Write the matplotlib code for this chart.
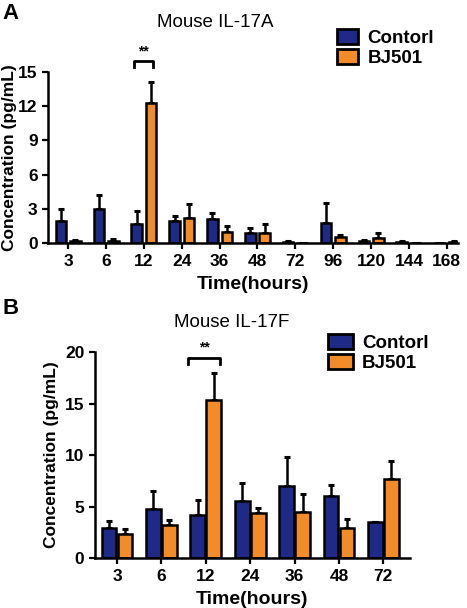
import numpy as np
import matplotlib.pyplot as plt

plt.rcParams['font.family'] = ['Liberation Sans', 'DejaVu Sans']

# Panel A: Mouse IL-17A
a_times = ['3', '6', '12', '24', '36', '48', '72', '96', '120', '144', '168']
a_ctrl = np.array([1.9, 3.0, 1.7, 1.95, 2.15, 0.9, 0.1, 1.8, 0.15, 0.1, 0.0])
a_ctrl_err = np.array([1.1, 1.2, 1.1, 0.45, 0.45, 0.4, 0.1, 1.7, 0.1, 0.05, 0.0])
a_bj = np.array([0.2, 0.2, 12.3, 2.2, 1.0, 0.9, 0.0, 0.5, 0.45, 0.0, 0.1])
a_bj_err = np.array([0.1, 0.15, 1.8, 1.2, 0.5, 0.8, 0.0, 0.2, 0.4, 0.0, 0.05])

# Panel B: Mouse IL-17F
b_times = ['3', '6', '12', '24', '36', '48', '72']
b_ctrl = np.array([2.9, 4.8, 4.2, 5.5, 7.0, 6.0, 3.5])
b_ctrl_err = np.array([0.7, 1.7, 1.4, 1.8, 2.8, 1.1, 0.0])
b_bj = np.array([2.3, 3.2, 15.3, 4.4, 4.5, 2.9, 7.7])
b_bj_err = np.array([0.5, 0.5, 2.7, 0.5, 1.7, 0.9, 1.7])

blue = '#1f2a86'
orange = '#f28c28'

fig = plt.figure(figsize=(4.67, 6.08), dpi=100)


def draw(ax, labels, ctrl, ctrl_err, bj, bj_err, width, off):
    x = np.arange(len(labels))
    for vals, errs, col, sign in [(ctrl, ctrl_err, blue, -1), (bj, bj_err, orange, 1)]:
        ax.bar(x + sign * off, vals, width, color=col, edgecolor='black', linewidth=1.8, zorder=2)
        ax.errorbar(x + sign * off, vals, yerr=[np.zeros_like(errs), errs], fmt='none',
                    ecolor='black', elinewidth=1.8, capsize=2.2, capthick=2.2, zorder=1)
    ax.set_xticks(x)
    ax.set_xticklabels(labels)
    for s in ['top', 'right']:
        ax.spines[s].set_visible(False)
    for s in ['left', 'bottom']:
        ax.spines[s].set_linewidth(1.8)
    ax.tick_params(width=1.6, length=4, labelsize=12.5)
    for t in ax.get_xticklabels() + ax.get_yticklabels():
        t.set_fontweight('bold')
    return x


def bracket(ax, x0, x1, y, h):
    ax.plot([x0, x0, x1, x1], [y - h, y, y, y - h], color='black', lw=2, clip_on=False)
    ax.text((x0 + x1) / 2, y + h * 0.6, '**', ha='center', va='bottom', fontsize=10, fontweight='bold')


def legend(anchor, hl):
    h = [plt.Rectangle((0, 0), 1, 1, facecolor=c, edgecolor='black', lw=2) for c in (blue, orange)]
    fig.legend(h, ['Contorl', 'BJ501'], loc='center left', bbox_to_anchor=anchor,
               frameon=False, prop={'weight': 'bold', 'size': 13.5}, handlelength=hl,
               handleheight=0.8, handletextpad=0.5, labelspacing=0.12, borderpad=0,
               borderaxespad=0)


# ---- Panel A ----
axA = fig.add_axes([0.103, 0.600, 0.878, 0.282])
draw(axA, a_times, a_ctrl, a_ctrl_err, a_bj, a_bj_err, 0.28, 0.19)
axA.set_xlim(-0.53, 10.3)
axA.set_ylim(0, 15)
axA.set_yticks([0, 3, 6, 9, 12, 15])
axA.set_ylabel('Concentration (pg/mL)', fontsize=12.5, fontweight='bold', labelpad=1)
axA.set_xlabel('Time(hours)', fontsize=14, fontweight='bold', labelpad=5)
bracket(axA, 1.73, 2.25, 15.9, 0.45)
fig.text(0.46, 0.963, 'Mouse IL-17A', ha='center', va='center', fontsize=13.5)
fig.text(0.005, 0.978, 'A', fontsize=16, fontweight='bold', va='center')
legend((0.722, 0.921), 1.12)

# ---- Panel B ----
axB = fig.add_axes([0.203, 0.082, 0.675, 0.339])
draw(axB, b_times, b_ctrl, b_ctrl_err, b_bj, b_bj_err, 0.33, 0.18)
axB.set_xlim(-0.5, 6.6)
axB.set_ylim(0, 20)
axB.set_yticks([0, 5, 10, 15, 20])
axB.set_ylabel('Concentration (pg/mL)', fontsize=12.5, fontweight='bold', labelpad=4)
axB.set_xlabel('Time(hours)', fontsize=14, fontweight='bold', labelpad=5)
bracket(axB, 1.6, 2.32, 19.4, 0.6)
fig.text(0.497, 0.470, 'Mouse IL-17F', ha='center', va='center', fontsize=13.5)
fig.text(0.005, 0.493, 'B', fontsize=16, fontweight='bold', va='center')
legend((0.702, 0.419), 1.33)

fig.savefig('out.png', dpi=100)
